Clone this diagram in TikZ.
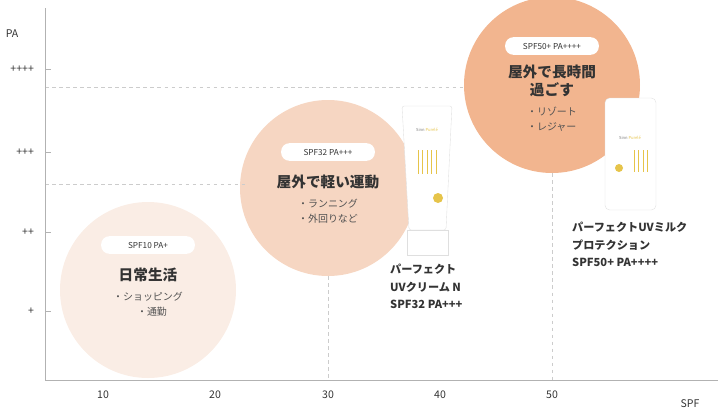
\documentclass[tikz,border=0pt]{standalone}
\usepackage{fontspec}
\setmainfont{Noto Sans CJK JP}
\usetikzlibrary{positioning}
\definecolor{soft}{HTML}{FAEDE5}
\definecolor{mid}{HTML}{F6D6C2}
\definecolor{deep}{HTML}{F2B58F}
\definecolor{txt}{HTML}{333333}
\definecolor{gold}{HTML}{E6C44A}
\tikzset{
	pill/.style={fill=white,rounded corners=7pt,minimum width=80pt,minimum height=15pt,font=\fontsize{7}{8}\selectfont,text=txt,inner sep=1pt},
	head/.style={font=\bfseries\fontsize{12.5}{15}\selectfont,text=txt,align=center},
	note/.style={font=\fontsize{8.5}{13}\selectfont,text=txt!85,align=left},
	prod/.style={font=\bfseries\fontsize{9.5}{15}\selectfont,text=txt,align=left,anchor=north west,inner sep=0pt},
	tick/.style={font=\fontsize{9}{10}\selectfont,text=txt},
	grid/.style={gray!40,dashed,line width=0.4pt},
	pack/.style={fill=white,draw=gray!25,line width=0.3pt},
	brand/.style={font=\fontsize{3.5}{4}\selectfont,text=gray,inner sep=0pt},
}
\begin{document}
\begin{tikzpicture}[x=0.03cm,y=-0.03cm]
	\useasboundingbox (0,0) rectangle (720,411);
	\clip (0,0) rectangle (720,411);

	% circles
	\fill [soft] (148,290) circle[radius=88];
	\fill [mid] (328,188) circle[radius=88];
	\fill [deep] (552,85) circle[radius=88];

	% grid
	\draw [grid] (45,87) -- (465,87);
	\draw [grid] (45,184) -- (245,184);
	\draw [grid] (328,276) -- (328,380);
	\draw [grid] (552,173) -- (552,380);

	% axes
	\draw [gray!60] (45,8) -- (45,380) -- (718,380);
	\node [tick] (pa) at (12,34) {PA};
	\node [tick] (spf) at (690,404) {SPF};
	\foreach \v/\lab in {69/++++,152/+++,232/++,311/+}{
		\draw [gray!60] (45,\v) -- (51,\v);
		\node [tick,anchor=east] at (38,\v) {\lab};
	}
	\foreach \v/\lab in {103/10,215/20,328/30,440/40,552/50}
		\node [tick] at (\v,395) {\lab};

	% labels in circles
	\node [pill] (p1) at (148,245) {SPF10 PA+};
	\node [head,below=8pt of p1] (h1) {日常生活};
	\node [note,below=2pt of h1] {・ショッピング\\\hspace{2.4em}・通勤};
	\node [pill] (p2) at (328,152) {SPF32 PA+++};
	\node [head,below=8pt of p2] (h2) {屋外で軽い運動};
	\node [note,below=2pt of h2] {・ランニング\\・外回りなど};
	\node [pill] (p3) at (552,46) {SPF50+ PA++++};
	\node [head,below=5pt of p3] (h3) {屋外で長時間\\過ごす};
	\node [note,below=2pt of h3] {・リゾート\\・レジャー};

	% products
	\draw [pack,rounded corners=2pt] (402,106) -- (452,106) -- (446,230) -- (409,230) -- cycle;
	\draw [pack] (407,230) rectangle (448,255);
	\node [brand] at (427,130) {Sinn \textcolor{gold}{Purelé}};
	\foreach \i in {0,...,4}
		\draw [gold,line width=0.8pt] (418+\i*4.5,150) -- (418+\i*4.5,174);
	\fill [gold] (438,198) circle[radius=5];
	\draw [pack,rounded corners=4pt] (605,98) rectangle (656,210);
	\node [brand] at (630,138) {Sinn \textcolor{gold}{Purelé}};
	\foreach \i in {0,...,3}
		\draw [gold,line width=0.8pt] (634+\i*4.5,150) -- (634+\i*4.5,172);
	\fill [gold] (619,168) circle[radius=4];

	\node [prod] (n1) at (390,264) {パーフェクト\\UVクリーム N\\SPF32 PA+++};
	\node [prod] (n2) at (572,222) {パーフェクトUVミルク\\プロテクション\\SPF50+ PA++++};
\end{tikzpicture}
\end{document}
